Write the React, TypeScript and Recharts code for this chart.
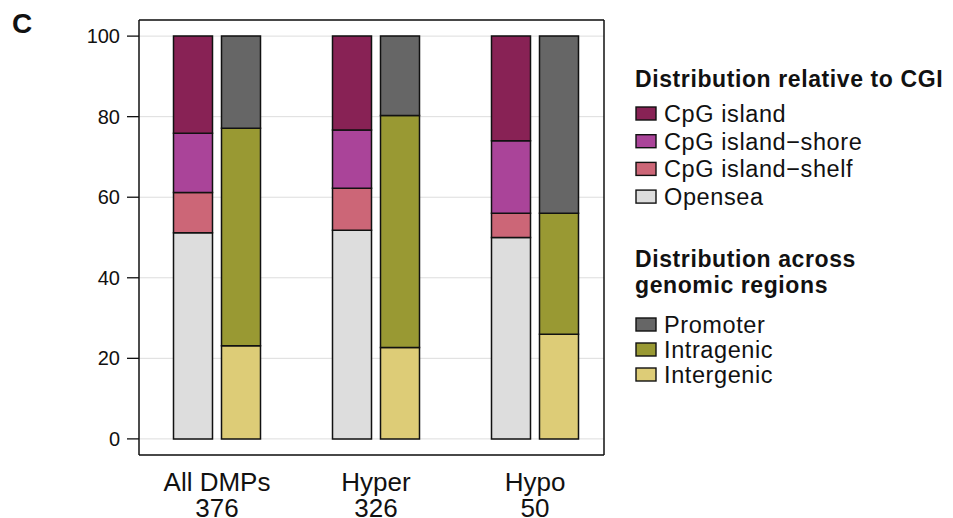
import {
  Bar,
  BarChart,
  CartesianGrid,
  Legend,
  XAxis,
  YAxis,
} from "recharts";

const categories = ["All DMPs", "Hyper", "Hypo"];
const counts = [376, 326, 50];

// distribution relative to CGI (%)
const opensea = [51.2, 51.8, 50];
const shelf = [10.0, 10.4, 6];
const shore = [14.7, 14.5, 18];
const island = [24.1, 23.3, 26];

// distribution across genomic regions (%)
const intergenic = [23.1, 22.7, 26];
const intragenic = [54.0, 57.6, 30];
const promoter = [22.9, 19.7, 44];

const yTicks = [0, 20, 40, 60, 80, 100];

const cgiSeries = [
  { key: "island", label: "CpG island", color: "#882255" },
  { key: "shore", label: "CpG island\u2212shore", color: "#AA4499" },
  { key: "shelf", label: "CpG island\u2212shelf", color: "#CC6677" },
  { key: "opensea", label: "Opensea", color: "#DDDDDD" },
];
const genomicSeries = [
  { key: "promoter", label: "Promoter", color: "#666666" },
  { key: "intragenic", label: "Intragenic", color: "#999933" },
  { key: "intergenic", label: "Intergenic", color: "#DDCC77" },
];

const data = categories.map((name, i) => ({
  name,
  opensea: opensea[i],
  shelf: shelf[i],
  shore: shore[i],
  island: island[i],
  intergenic: intergenic[i],
  intragenic: intragenic[i],
  promoter: promoter[i],
}));

const FONT = "'Liberation Sans', Arial, sans-serif";
const colorOf = (key: string) =>
  [...cgiSeries, ...genomicSeries].find((s) => s.key === key)!.color;

function CategoryTick({ x, y, payload }: any) {
  const i = categories.indexOf(payload.value);
  return (
    <text
      x={x}
      y={y}
      textAnchor="middle"
      fontFamily={FONT}
      fontSize={26}
      fill="#111"
    >
      <tspan x={x} dy={35.5}>
        {payload.value}
      </tspan>
      <tspan x={x} dy={26}>
        {counts[i]}
      </tspan>
    </text>
  );
}

function LegendBlock() {
  const item = (s: { key: string; label: string; color: string }, base: number) => (
    <g key={s.key}>
      <rect
        x={11}
        y={base - 15}
        width={20}
        height={13}
        fill={s.color}
        stroke="#111"
        strokeWidth={1.4}
      />
      <text x={39} y={base} fontSize={23.5} letterSpacing={0.6} fill="#111">
        {s.label}
      </text>
    </g>
  );
  return (
    <svg width={328} height={340} fontFamily={FONT}>
      <text x={10} y={27} fontSize={23} fontWeight={700} letterSpacing={0.6} fill="#111">
        Distribution relative to CGI
      </text>
      {cgiSeries.map((s, i) => item(s, 62 + i * 27.7))}
      <text x={10} y={207} fontSize={23} fontWeight={700} letterSpacing={0.6} fill="#111">
        Distribution across
      </text>
      <text x={10} y={233} fontSize={23} fontWeight={700} letterSpacing={0.6} fill="#111">
        genomic regions
      </text>
      {genomicSeries.map((s, i) => item(s, 273 + i * 25))}
    </svg>
  );
}

export default function App() {
  return (
    <div style={{ position: "absolute", left: 0, top: 0 }}>
      <BarChart
        width={953}
        height={518}
        data={data}
        margin={{ top: 19, right: 348, left: 79, bottom: 0 }}
        barSize={39}
        barGap={9}
      >
        <text x={12} y={33} fontFamily={FONT} fontSize={28} fontWeight={700} fill="#111">
          C
        </text>
        <CartesianGrid stroke="#dddddd" vertical={false} />
        <XAxis
          dataKey="name"
          axisLine={{ stroke: "#111", strokeWidth: 1.5 }}
          tickLine={false}
          tickSize={0}
          tickMargin={0}
          height={63}
          padding={{ left: -1.5, right: -10.5 }}
          tick={<CategoryTick />}
          interval={0}
        />
        <XAxis
          xAxisId="top"
          dataKey="name"
          orientation="top"
          height={1}
          tick={false}
          tickLine={false}
          axisLine={{ stroke: "#111", strokeWidth: 1.5 }}
        />
        <YAxis
          type="number"
          domain={[-4, 104]}
          ticks={yTicks}
          width={60}
          axisLine={{ stroke: "#111", strokeWidth: 1.5 }}
          tickLine={{ stroke: "#111", strokeWidth: 1.3 }}
          tickSize={12}
          tickMargin={7}
          tick={{ fill: "#111", fontSize: 20, fontFamily: FONT }}
        />
        <YAxis
          yAxisId="r"
          orientation="right"
          type="number"
          domain={[0, 1]}
          width={1}
          tick={false}
          tickLine={false}
          axisLine={{ stroke: "#111", strokeWidth: 1.5 }}
        />
        {["opensea", "shelf", "shore", "island"].map((k) => (
          <Bar
            key={k}
            dataKey={k}
            stackId="cgi"
            fill={colorOf(k)}
            stroke="#111"
            strokeWidth={1.5}
            isAnimationActive={false}
          />
        ))}
        {["intergenic", "intragenic", "promoter"].map((k) => (
          <Bar
            key={k}
            dataKey={k}
            stackId="gen"
            fill={colorOf(k)}
            stroke="#111"
            strokeWidth={1.5}
            isAnimationActive={false}
          />
        ))}
        <Legend
          layout="vertical"
          align="center"
          verticalAlign="middle"
          wrapperStyle={{ left: 625, top: 60, width: 328, height: 340 }}
          content={() => <LegendBlock />}
        />
      </BarChart>
    </div>
  );
}
